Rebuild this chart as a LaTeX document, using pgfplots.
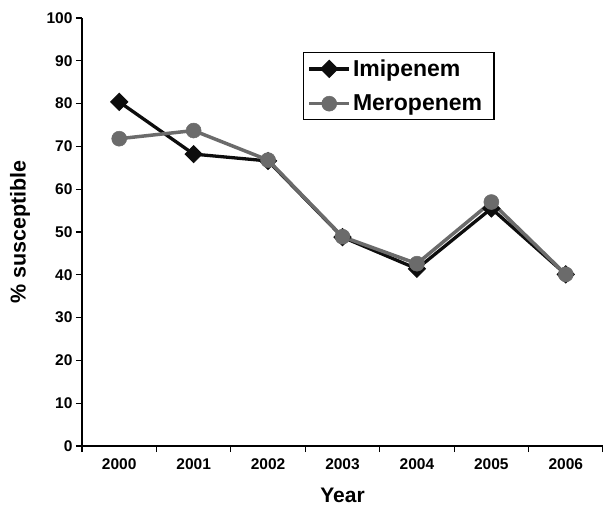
\documentclass[border=0pt]{standalone}
\usepackage{fontspec}
\setmainfont{Liberation Sans}
\usepackage{pgfplots}
\pgfplotsset{compat=1.18}
\definecolor{mero}{gray}{0.42}
\definecolor{imi}{gray}{0.05}
\begin{document}
\begin{tikzpicture}
\begin{axis}[
  name=ax,
  scale only axis,
  width=521pt, height=428pt,
  xmin=-0.5, xmax=6.5, ymin=0, ymax=100,
  axis x line*=bottom, axis y line*=left,
  axis line style={line width=1.2pt, black},
  xtick={0,...,6},
  xticklabels={2000,2001,2002,2003,2004,2005,2006},
  major x tick style={draw=none},
  minor xtick={-0.5,0.5,...,6.5},
  ytick={0,10,...,100},
  tick align=outside,
  major tick length=6pt, minor tick length=6pt,
  every tick/.style={line width=1.2pt, black},
  /pgf/number format/assume math mode=true,
  ticklabel style={font=\fontsize{15.5}{17}\selectfont\bfseries},
  xticklabel style={yshift=-3pt},
  every axis y label/.style={at={(axis description cs:0,0.5)}, xshift=-62pt, rotate=90, anchor=center, font=\fontsize{21.5}{23}\selectfont\bfseries},
  every axis x label/.style={at={(axis description cs:0.5,0)}, yshift=-49pt, anchor=center, font=\fontsize{21}{23}\selectfont\bfseries},
  ylabel={\% susceptible},
  xlabel={Year},
  legend style={at={(rel axis cs:0.424,0.92)}, anchor=north west, draw=black, line width=1.2pt, fill=white,
    font=\fontsize{23}{25}\selectfont\bfseries, inner xsep=4pt, inner ysep=5pt, row sep=13pt,
    nodes={inner sep=2pt}},
  legend cell align=left,
  legend image code/.code={\draw[mark repeat=2,mark phase=2] plot coordinates {(0pt,0pt)(20pt,0pt)(40pt,0pt)};},
  clip=false,
]
\addplot[imi, line width=3.3pt, mark=square*, mark size=6pt, mark options={rotate=45, line width=1pt, fill=imi}]
  coordinates {(0,80.4) (1,68.2) (2,66.6) (3,48.8) (4,41.4) (5,55.5) (6,40.1)};
\addlegendentry{Imipenem}
\addplot[mero, line width=3.5pt, mark=*, mark size=7.5pt, mark options={line width=0.5pt, fill=mero}]
  coordinates {(0,71.8) (1,73.7) (2,66.8) (3,48.9) (4,42.6) (5,57.0) (6,40.1)};
\addlegendentry{Meropenem\kern6pt\null}
\end{axis}
\pgfresetboundingbox
\path (ax.south west) ++(-82pt,-71pt) coordinate (bbA);
\path (ax.north east) ++(0pt,18pt) coordinate (bbB);
\useasboundingbox (bbA) rectangle (bbB);
\end{tikzpicture}
\end{document}
